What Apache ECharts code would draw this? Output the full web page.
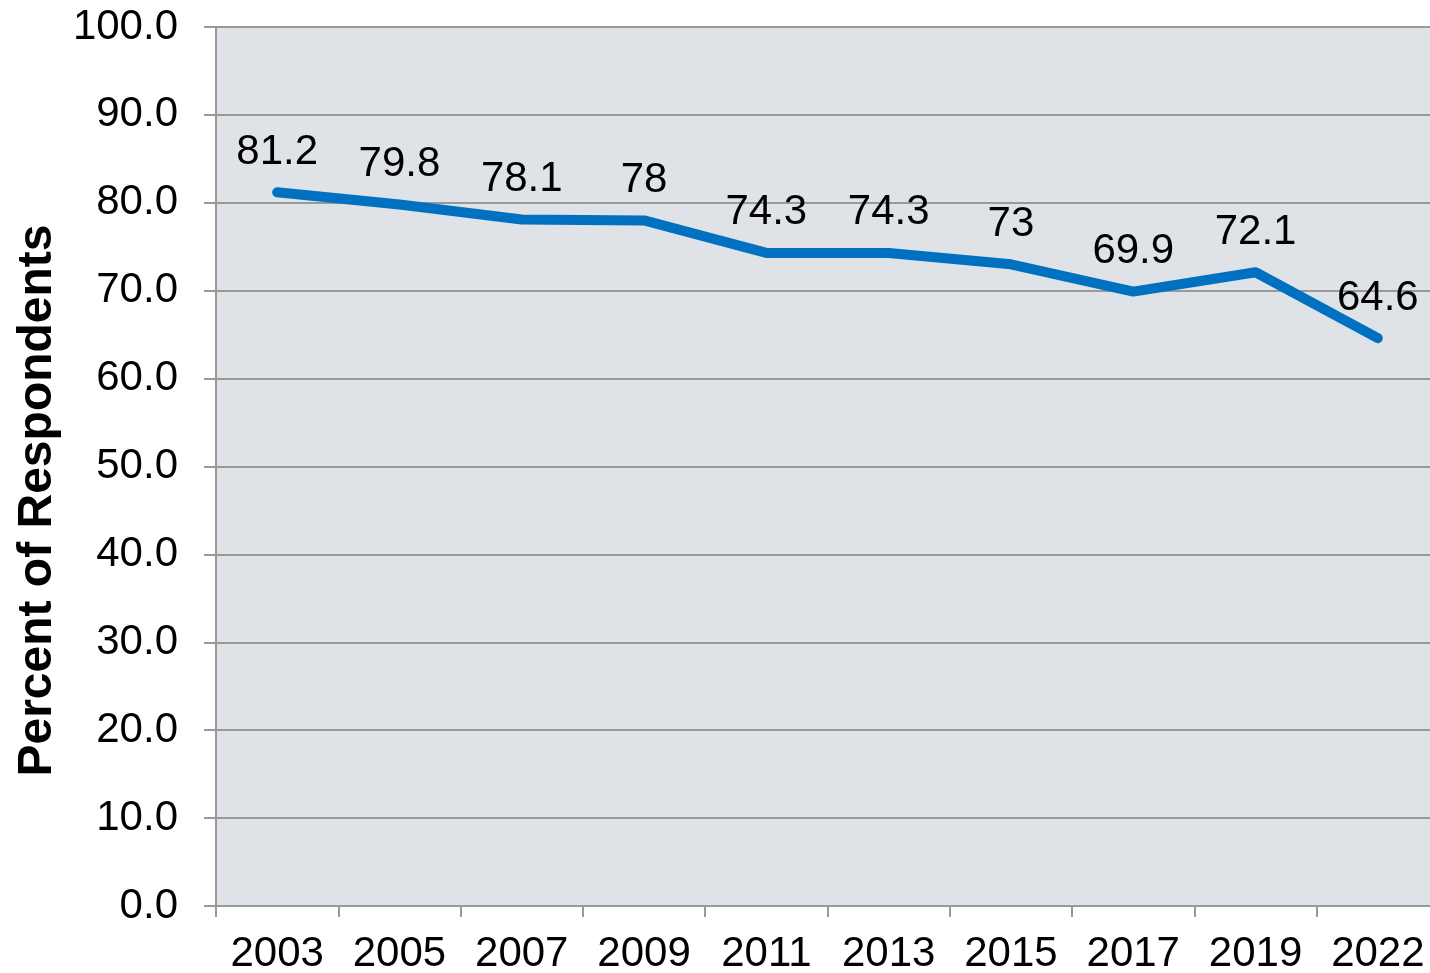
<!DOCTYPE html>
<html><head><meta charset="utf-8">
<script src="https://cdn.jsdelivr.net/npm/echarts@6/dist/echarts.min.js"></script>
<style>html,body{margin:0;padding:0;background:#fff}#c{width:1430px;height:973px}</style>
</head><body><div id="c"></div>
<script>
const years = ['2003','2005','2007','2009','2011','2013','2015','2017','2019','2022'];
const percent = [81.2, 79.8, 78.1, 78, 74.3, 74.3, 73, 69.9, 72.1, 64.6];
const yTicks = {min: 0, max: 100, interval: 10};
const FONT = '"Liberation Sans", Arial, sans-serif';
const chart = echarts.init(document.getElementById('c'), null, {renderer: 'canvas'});
chart.setOption({
  animation: false,
  backgroundColor: '#ffffff',
  grid: {left: 216, right: -9, top: 27, bottom: 67, show: true, backgroundColor: '#dfe2e6', borderWidth: 0,
         containLabel: false, outerBoundsMode: 'none'},
  xAxis: {
    type: 'category', data: years, boundaryGap: true,
    axisLine: {lineStyle: {color: '#999999', width: 2}},
    axisTick: {show: true, length: 11, interval: 0, alignWithLabel: false, lineStyle: {color: '#999999', width: 2}},
    axisLabel: {color: '#000', fontSize: 42, fontFamily: FONT, margin: 27, interval: 0, hideOverlap: false}
  },
  yAxis: {
    type: 'value', min: yTicks.min, max: yTicks.max, interval: yTicks.interval,
    name: 'Percent of Respondents', nameLocation: 'middle', nameGap: 153, nameRotate: 90,
    nameTextStyle: {color: '#000', fontSize: 48, fontWeight: 'bold', fontFamily: FONT, padding: [0, 68, 0, 0]},
    axisLine: {show: true, lineStyle: {color: '#999999', width: 2}},
    axisTick: {show: true, length: 12, lineStyle: {color: '#999999', width: 2}},
    axisLabel: {color: '#000', fontSize: 42, fontFamily: FONT, margin: 38, formatter: v => v.toFixed(1)},
    splitLine: {show: true, lineStyle: {color: '#999999', width: 2}}
  },
  series: [{
    type: 'line', data: percent, showSymbol: true, symbol: 'circle', symbolSize: 0,
    lineStyle: {color: '#0070c0', width: 10, cap: 'round', join: 'round'},
    itemStyle: {color: '#0070c0'},
    label: {show: true, position: 'top', distance: 19, color: '#000', fontSize: 42, fontFamily: FONT}
  }]
});
</script></body></html>
